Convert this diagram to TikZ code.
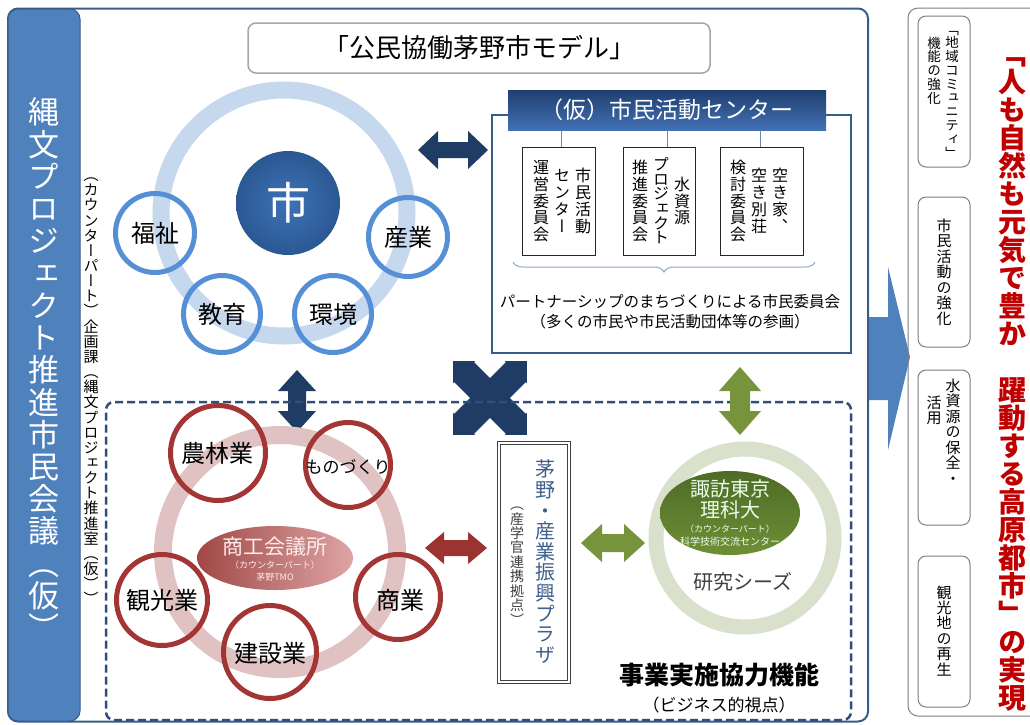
\documentclass[tikz,border=0pt]{standalone}
\usepackage{fontspec}
\setmainfont{Noto Sans CJK JP}
\newfontfamily\vjp[RawFeature=+vert]{Noto Sans CJK JP}
\usetikzlibrary{decorations.pathreplacing,shapes.geometric}
\definecolor{navy}{HTML}{1F3C64}
\definecolor{frameblue}{HTML}{385D8A}
\definecolor{panelblue}{HTML}{4F81BD}
\definecolor{ringblue}{HTML}{C6D8EE}
\definecolor{circblue}{HTML}{5590D6}
\definecolor{shiA}{HTML}{3E72B5}
\definecolor{shiB}{HTML}{2B5893}
\definecolor{ringred}{HTML}{E0C2C2}
\definecolor{circred}{HTML}{A33535}
\definecolor{ellredA}{HTML}{A04846}
\definecolor{ellredB}{HTML}{DDA5A4}
\definecolor{arrred}{HTML}{9B3430}
\definecolor{ringgreen}{HTML}{D9E0CB}
\definecolor{ellgreenA}{HTML}{4E6B25}
\definecolor{ellgreenB}{HTML}{6F8F36}
\definecolor{arrgreen}{HTML}{77933C}
\definecolor{hdrA}{HTML}{203F70}
\definecolor{hdrB}{HTML}{4271B4}
\definecolor{redtext}{HTML}{C00000}
\definecolor{graybox}{HTML}{7F7F7F}
\definecolor{plazablue}{HTML}{3E5F8A}
\definecolor{bracec}{HTML}{8EA9C8}
\definecolor{dashc}{HTML}{2F4F7A}
\newcommand\fsz[1]{\fontsize{#1pt}{#1pt}\selectfont}
\makeatletter
\newcommand\vcol[2]{\vtop{\baselineskip=#1\lineskiplimit=-\maxdimen\lineskip=0pt\@tfor\vc:=#2\do{\hbox to 1em{\hss\vc\hss\vrule width 0pt height .88em depth .12em}}}}
\makeatother
\newcommand\dblarrow[8]{\fill[#8, shift={(#1,#2)}, rotate=#3] (-#4,0) -- ({-#4+#7},-#5) -- ({-#4+#7},-#6) -- ({#4-#7},-#6) -- ({#4-#7},-#5) -- (#4,0) -- ({#4-#7},#5) -- ({#4-#7},#6) -- ({-#4+#7},#6) -- ({-#4+#7},#5) -- cycle;}
\tikzset{
  lbl/.style={inner sep=0pt, text=black},
  bcirc/.style={circle, draw=circblue, line width=5pt, inner sep=0pt},
  rcirc/.style={circle, draw=circred, line width=5pt, inner sep=0pt},
  subbox/.style={draw=black!85, line width=0.8pt, inner sep=0pt},
  rbox/.style={draw=graybox, rounded corners=8pt, line width=1pt, inner sep=0pt},
  linkc/.style={draw=bracec!80!black, line width=0.8pt},
}
\begin{document}
\begin{tikzpicture}[x=1pt,y=-1pt]
\clip (0,0) rectangle (1030,724);
\fill[white] (0,0) rectangle (1030,724);
% outer frame and left panel
\node[draw=frameblue, line width=2pt, rounded corners=10pt, minimum width=860pt, minimum height=713pt, inner sep=0pt] (frame) at (438,365) {};
\node[fill=panelblue, draw=frameblue, line width=1pt, rounded corners=10pt, minimum width=72pt, minimum height=712pt, inner sep=0pt] (lpanel) at (44,365) {};
\node[inner sep=0pt, text=white, font=\vjp\fsz{31}] (lptext) at (44,370) {\vcol{1.04em}{縄文プロジェクト推進市民会議（仮）}};
\node[lbl, font=\vjp\fsz{15}] (cpt) at (91,387) {\vcol{1.01em}{（カウンターパート）企画課（縄文プロジェクト推進室（仮））}};
% title
\node[draw=gray!70, line width=1.5pt, rounded corners=8pt, minimum width=462pt, minimum height=50pt, inner sep=0pt, font=\fsz{26}] (title) at (479,48) {「公民協働茅野市モデル」};
% blue ring
\draw[ringblue, line width=17pt] (284,213) circle[radius=123pt];
\node[circle, minimum size=104pt, inner sep=0pt, shading=radial, inner color=shiA, outer color=shiB, text=white, font=\fsz{44}] (shi) at (288,203) {市};
\node[bcirc, minimum size=79pt] (cFuku) at (155,233) {};
\node[bcirc, minimum size=77pt] (cKyo) at (222,314) {};
\node[bcirc, minimum size=77pt] (cKan) at (333,314) {};
\node[bcirc, minimum size=79pt] (cSan) at (408,237) {};
\node[lbl, font=\fsz{24}] (tFuku) at (cFuku) {福祉};
\node[lbl, font=\fsz{24}] (tKyo) at (cKyo) {教育};
\node[lbl, font=\fsz{24}] (tKan) at (cKan) {環境};
\node[lbl, font=\fsz{24}] (tSan) at (cSan) {産業};
% center box
\node[draw=frameblue, line width=2pt, minimum width=359pt, minimum height=238pt, inner sep=0pt] (cframe) at (671.5,234) {};
\node[minimum width=318pt, minimum height=40pt, inner sep=0pt, top color=hdrA, bottom color=hdrB, text=white, font=\fsz{23}] (hdr) at (667,110) {（仮）市民活動センター};
\node[subbox, minimum width=73pt, minimum height=108pt] (sb1) at (558.5,201) {};
\node[subbox, minimum width=72pt, minimum height=108pt] (sb2) at (659,201) {};
\node[subbox, minimum width=83pt, minimum height=108pt] (sb3) at (761.5,201) {};
\draw[linkc] ([xshift=2.5pt]sb1.north) -- ([xshift=2.5pt]sb1.north |- hdr.south);
\draw[linkc] ([xshift=8pt]sb2.north) -- ([xshift=8pt]sb2.north |- hdr.south);
\draw[linkc] ([xshift=-1.5pt]sb3.north) -- ([xshift=-1.5pt]sb3.north |- hdr.south);
\node[lbl, font=\vjp\fsz{16}] (sb1a) at (583,201) {\vcol{1.05em}{市民活動}};
\node[lbl, font=\vjp\fsz{16}] (sb1b) at (562,201) {\vcol{1.05em}{センター}};
\node[lbl, font=\vjp\fsz{16}] (sb1c) at (541,201) {\vcol{1.05em}{運営委員会}};
\node[lbl, font=\vjp\fsz{16}] (sb2a) at (682,201) {\vcol{1.05em}{水資源}};
\node[lbl, font=\vjp\fsz{16}] (sb2b) at (661,201) {\vcol{0.92em}{プロジェクト}};
\node[lbl, font=\vjp\fsz{16}] (sb2c) at (640,201) {\vcol{1.05em}{推進委員会}};
\node[lbl, font=\vjp\fsz{16}] (sb3a) at (780,201) {\vcol{1.05em}{空き家、}};
\node[lbl, font=\vjp\fsz{16}] (sb3b) at (759,201) {\vcol{1.05em}{空き別荘}};
\node[lbl, font=\vjp\fsz{16}] (sb3c) at (738,201) {\vcol{1.05em}{検討委員会}};
\coordinate (brL) at (513,262);
\coordinate (brR) at (815,262);
\draw[bracec, line width=1pt, decorate, decoration={brace, mirror, amplitude=10pt}] (brL) -- (brR);
\node[lbl, font=\fsz{15.5}] (pt1) at (670,302) {パートナーシップのまちづくりによる市民委員会};
\node[lbl, font=\fsz{15.5}] (pt2) at (670,322) {（多くの市民や市民活動団体等の参画）};
% navy arrows
\dblarrow{453}{150}{0}{35}{19}{8}{20}{navy}
\dblarrow{297}{401}{90}{31}{19}{9}{21}{navy}
\begin{scope}[shift={(490,398)}, rotate=45]
\fill[navy] (14,-14) -- (36.5,-14) -- (36.5,-15.5) -- (52,0) -- (36.5,15.5) -- (36.5,14) -- (14,14) -- (14,36.5) -- (15.5,36.5) -- (0,52) -- (-15.5,36.5) -- (-14,36.5) -- (-14,14) -- (-36.5,14) -- (-36.5,15.5) -- (-52,0) -- (-36.5,-15.5) -- (-36.5,-14) -- (-14,-14) -- (-14,-36.5) -- (-15.5,-36.5) -- (0,-52) -- (15.5,-36.5) -- (14,-36.5) -- cycle;
\end{scope}
% dashed lower frame
\node[draw=dashc, dash pattern=on 8pt off 4pt, line width=2.5pt, rounded corners=8pt, minimum width=745pt, minimum height=318pt, inner sep=0pt] (dframe) at (478.5,561) {};
% red ring group
\draw[ringred, line width=18pt] (280,552) circle[radius=117pt];
\node[ellipse, minimum width=156pt, minimum height=64pt, inner sep=0pt, left color=ellredA, right color=ellredB] (shoko) at (275,558) {};
\node[lbl, text=white!92!red, font=\fsz{21}] (shokoA) at (275,547) {商工会議所};
\node[lbl, text=white!92!red, font=\fsz{9}] (shokoB) at (275,565) {（カウンターパート）};
\node[lbl, text=white!92!red, font=\fsz{9}] (shokoC) at (275,577) {茅野TMO};
\node[rcirc, minimum size=95pt] (cNou) at (218,453) {};
\node[rcirc, minimum size=85pt] (cMono) at (348,465) {};
\node[rcirc, minimum size=91pt] (cKank) at (162,600) {};
\node[rcirc, minimum size=93pt] (cKen) at (270,652) {};
\node[rcirc, minimum size=85pt] (cSho) at (398,597) {};
\node[lbl, font=\fsz{24}] (tNou) at (217,453) {農林業};
\node[lbl, font=\fsz{17}] (tMono) at (348,467) {ものづくり};
\node[lbl, font=\fsz{24}] (tKank) at (162,600) {観光業};
\node[lbl, font=\fsz{24}] (tKen) at (270,653) {建設業};
\node[lbl, font=\fsz{24}] (tSho) at (400,600) {商業};
\dblarrow{456}{548}{0}{31}{16}{8}{19}{arrred}
% plaza
\node[draw=black!75, double=white, double distance=2pt, line width=0.7pt, minimum width=70pt, minimum height=239pt, inner sep=0pt] (plaza) at (534,562.5) {};
\node[lbl, text=plazablue, font=\vjp\fsz{20}] (plazaA) at (545,562) {\vcol{1.03em}{茅野・産業振興プラザ}};
\node[lbl, text=black!75, font=\vjp\fsz{14}] (plazaB) at (517,562) {\vcol{1.03em}{（産学官連携拠点）}};
% green group
\dblarrow{613}{543}{0}{32}{19}{9}{21}{arrgreen}
\dblarrow{740}{401}{90}{34}{21}{10}{24}{arrgreen}
\draw[ringgreen, line width=15pt] (745,538) circle[radius=89pt];
\node[ellipse, minimum width=140pt, minimum height=84pt, inner sep=0pt, top color=ellgreenA, bottom color=ellgreenB] (suwa) at (730,513) {};
\node[lbl, text=white!92!green, font=\fsz{20}] (suwaA) at (730,489) {諏訪東京};
\node[lbl, text=white!92!green, font=\fsz{20}] (suwaB) at (730,510) {理科大};
\node[lbl, text=white!92!green, font=\fsz{9}] (suwaC) at (730,529) {（カウンターパート）};
\node[lbl, text=white!92!green, font=\fsz{10}] (suwaD) at (730,542) {科学技術交流センター};
\node[lbl, text=black!75, font=\fsz{20}] (seeds) at (743,582) {研究シーズ};
\node[lbl, font=\bfseries\fsz{25}] (jigyo) at (719,675) {事業実施協力機能};
\node[lbl, font=\fsz{17}] (biz) at (719,705) {（ビジネス的視点）};
% big arrow
\fill[panelblue] (869,317) -- (888,317) -- (888,267) -- (910,357) -- (888,450) -- (888,400) -- (869,400) -- cycle;
% right panel
\node[draw=graybox, rounded corners=10pt, line width=1pt, minimum width=140pt, minimum height=708pt, inner sep=0pt] (rpanel) at (978,362) {};
\node[rbox, minimum width=52pt, minimum height=151pt] (rb1) at (944,91.5) {};
\node[rbox, minimum width=52pt, minimum height=150pt] (rb2) at (944,272) {};
\node[rbox, minimum width=52pt, minimum height=155pt] (rb3) at (944,447.5) {};
\node[rbox, minimum width=52pt, minimum height=151pt] (rb4) at (944,631.5) {};
\node[lbl, anchor=north, font=\vjp\fsz{13.5}] (rb1a) at (952,22) {\vcol{1.02em}{「地域コミュニティ」}};
\node[lbl, anchor=north, font=\vjp\fsz{13.5}] (rb1b) at (934,36) {\vcol{1.02em}{機能の強化}};
\node[lbl, font=\vjp\fsz{15}] (rb2a) at (944,272) {\vcol{1.03em}{市民活動の強化}};
\node[lbl, anchor=north, font=\vjp\fsz{15}] (rb3a) at (953,378) {\vcol{1.03em}{水資源の保全・}};
\node[lbl, anchor=north, font=\vjp\fsz{15}] (rb3b) at (934,395) {\vcol{1.03em}{活用}};
\node[lbl, font=\vjp\fsz{15}] (rb4a) at (944,631) {\vcol{1.03em}{観光地の再生}};
\node[lbl, anchor=north, text=redtext, font=\vjp\bfseries\fsz{28}] (goalA) at (1012,40) {\vcol{1em}{「人も自然も元気で豊か}};
\node[lbl, anchor=south, text=redtext, font=\vjp\bfseries\fsz{28}] (goalB) at (1012,712) {\vcol{1em}{躍動する高原都市」の実現}};
\end{tikzpicture}
\end{document}
